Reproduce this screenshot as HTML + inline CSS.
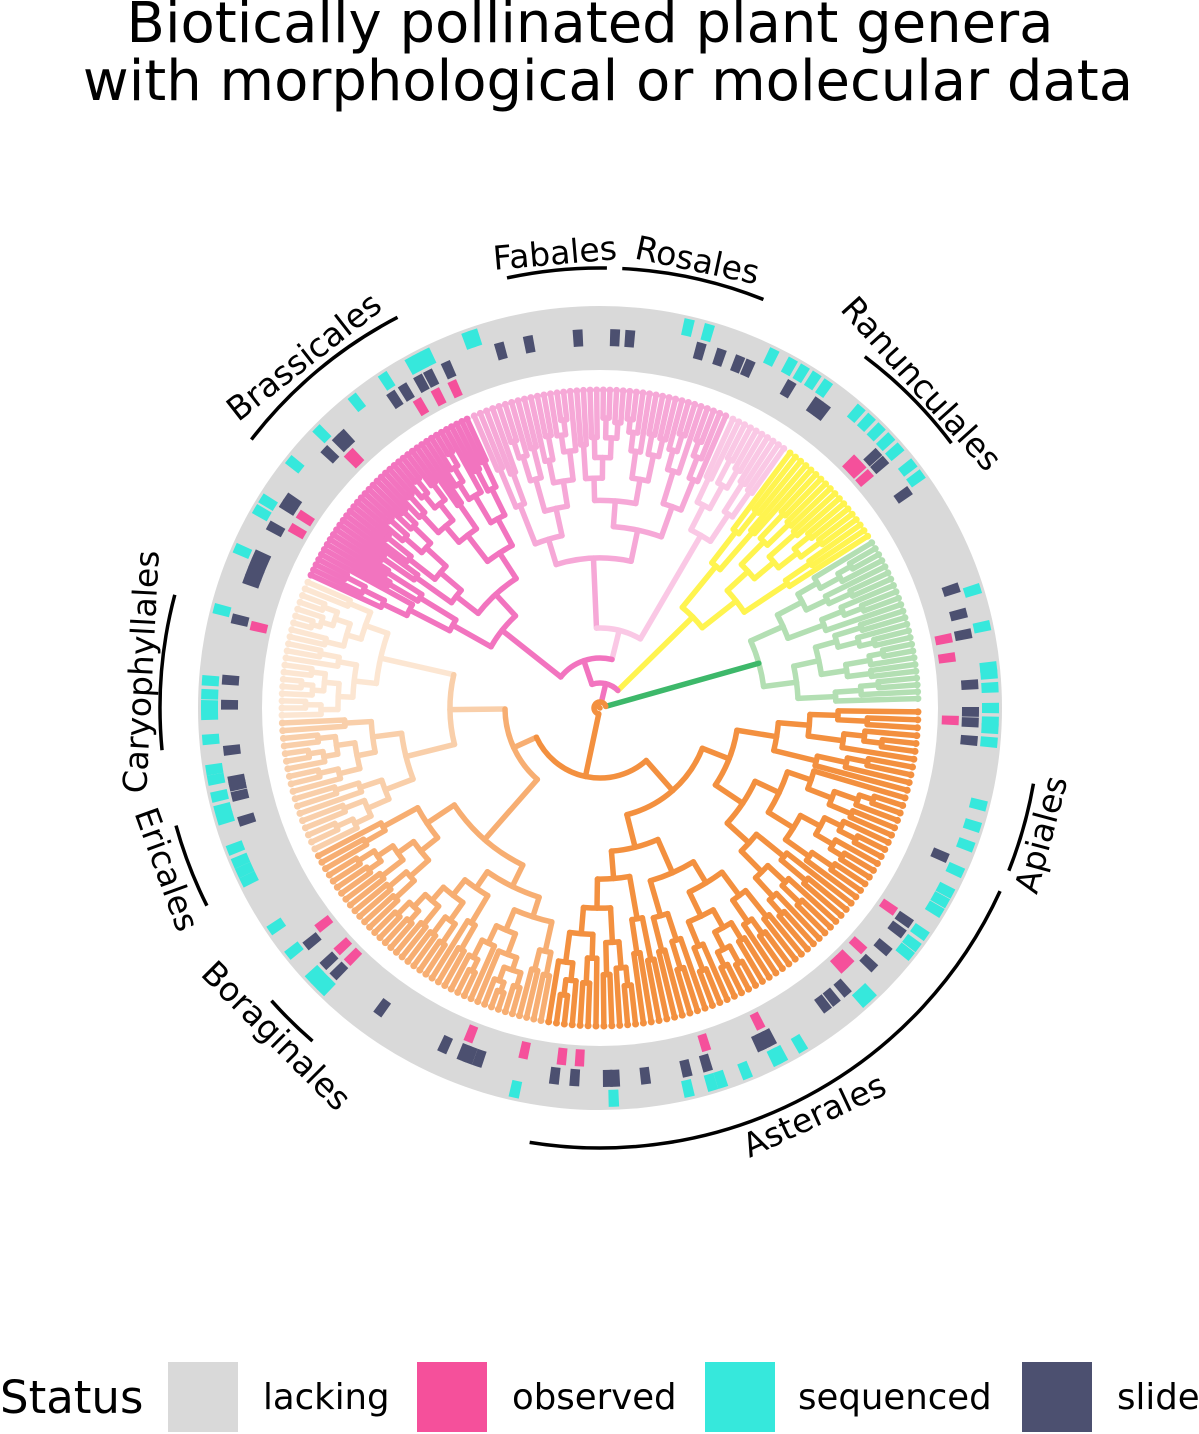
<!DOCTYPE html>
<html><head><meta charset="utf-8"><style>
html,body{margin:0;padding:0;background:#fff;}
svg{display:block;font-family:"DejaVu Sans","Liberation Sans",sans-serif;}
</style></head><body>
<svg id="chart" width="1199" height="1434" viewBox="0 0 1199 1434" xmlns="http://www.w3.org/2000/svg">
<text x="590" y="42" font-size="56" text-anchor="middle">Biotically pollinated plant genera</text>
<text x="608" y="100" font-size="56" text-anchor="middle">with morphological or molecular data</text>
<g id="ring"></g>
<g id="tree"></g>
<g id="labels"></g>
<g>
<text x="0" y="1413" font-size="45">Status</text>
<rect x="168" y="1362" width="70" height="70" fill="#D9D9D9"/>
<text x="263" y="1409" font-size="35.5">lacking</text>
<rect x="417" y="1362" width="70" height="70" fill="#F5509B"/>
<text x="512" y="1409" font-size="35.5">observed</text>
<rect x="705" y="1362" width="70" height="70" fill="#36E8DC"/>
<text x="798" y="1409" font-size="35.5">sequenced</text>
<rect x="1022" y="1362" width="70" height="70" fill="#4C5070"/>
<text x="1117" y="1409" font-size="35.5">slide</text>
</g>
</svg>
<script>
const cladeNames=["asterales","boraginales","ericales","caryophyllales","brassicales","rosales","fabales","ranunculales","apiales"];
const cladeStart=[0,100,153,178,204,246,294,306,328];
const cladeEnd=[100,153,178,204,246,294,306,328,359];
const cladeTips=[70,40,18,20,40,40,10,18,25];
const cladeCrown=[110,175,200,225,125,150,200,130,165];
const cladeColors=["#F3903F","#F7AE72","#F9CFAA","#FCE6D2","#F274BF","#F6A8D7","#FAC8E5","#FFF44F","#B3DFB3"];
const cladeStemColors=["#F3903F","#F7AE72","#F9CFAA","#FCE6D2","#F274BF","#F6A8D7","#FAC8E5","#FFF44F","#3DB86A"];
const observedAngles=[239.3,242.6,245.6,225.2,225.7,210.3,212.8,193.3,315.8,317.2,319,348.7,351.8,2,34.6,42.6,45.6,47,63.3,72.7,93.3,96.2,102.4,111.6,134.8,137.2,142];
const slideAngles=[254.5,259,266.6,272.3,274.6,285.6,288.8,291.8,293.5,300.5,305.4,306.8,317.4,319,324.9,341.4,345.4,348.6,356.4,0.6,2.2,5,23.4,34.8,36.7,40.2,43.5,49.1,51.3,53,62.9,63.9,64.6,73.4,76.6,83,87.7,88.8,93.9,97,109,110.5,111.5,114.7,126,134.8,137,141,162.5,166.4,168,168.8,173.5,180.5,184.3,193.7,200,201.3,202.6,204,208.9,212.8,213.9,223.2,225.7,226.7,236.4,238.5,241.2,242.9,245.9];
const sequencedAngles=[283,286,296,299,301,303,305,311,313,315,317,319,322,324,342.5,348,354,355,357,0,2,3,5,14.3,17.5,20.5,24.5,27.8,29.4,31,35,37,38.6,46.8,48,59.3,62.6,63.4,68.2,72,73.5,77,88,102.5,134.5,135.8,137,141.6,146,154,155.5,157,159,163.6,165,167,169.5,171,175.4,179,180.4,182,184,194.5,203.7,210,211.8,218.6,224.6,231.5,236.9,241.4,242.6,243.9,250.4,251.3];
const orderLabels=["Fabales","Rosales","Ranunculales","Apiales","Asterales","Boraginales","Ericales","Caryophyllales","Brassicales"];
const orderArcStart=[257.8,272.9,307,9.9,24.6,130.8,153.3,174.5,217.6];
const orderArcEnd=[270.9,291.8,323,21.7,99.2,138.3,164.5,194.9,242.6];

const NS="http://www.w3.org/2000/svg";
const cx=600,cy=708,tipR=318;
function P(r,a){const t=a*Math.PI/180;return [cx+r*Math.cos(t),cy+r*Math.sin(t)];}
function mk(tag,attrs,parent){const e=document.createElementNS(NS,tag);for(const k in attrs)e.setAttribute(k,attrs[k]);parent.appendChild(e);return e;}

const ring=document.getElementById('ring');
const bg=mk('path',{d:`M ${cx+402} ${cy} A 402 402 0 1 1 ${cx-402} ${cy} A 402 402 0 1 1 ${cx+402} ${cy} M ${cx+338} ${cy} A 338 338 0 1 0 ${cx-338} ${cy} A 338 338 0 1 0 ${cx+338} ${cy} Z`,fill:'#D9D9D9','fill-rule':'evenodd'},ring);


function wedge(a,r0,r1,color,name){
  const w=0.75;const p1=P(r0,a-w),p2=P(r1,a-w),p3=P(r1,a+w),p4=P(r0,a+w);
  const e=mk('path',{d:`M${p1} L${p2} A${r1} ${r1} 0 0 1 ${p3} L${p4} A${r0} ${r0} 0 0 0 ${p1} Z`,fill:color},ring);
  
  
}
observedAngles.forEach(a=>wedge(a,342,359,'#F5509B','observed-marker'));
slideAngles.forEach(a=>wedge(a,362,379,'#4C5070','slide-marker'));
sequencedAngles.forEach(a=>wedge(a,382,399,'#36E8DC','sequenced-marker'));

const tree=document.getElementById('tree');
function line(r0,r1,a,color){const p=P(r0,a),q=P(r1,a);
  const e=mk('line',{x1:p[0],y1:p[1],x2:q[0],y2:q[1],stroke:color,'stroke-width':5.5,'stroke-linecap':'round'},tree);
  
  }
function arc(r,a0,a1,color){if(Math.abs(a1-a0)<0.01)return;const p=P(r,a0),q=P(r,a1);const large=(a1-a0)>180?1:0;
  const e=mk('path',{d:`M${p} A${r} ${r} 0 ${large} 1 ${q}`,fill:'none',stroke:color,'stroke-width':5.5,'stroke-linecap':'round'},tree);
  
  }
const pattern=[0.5,0.3,0.62,0.4,0.22,0.55,0.75,0.35,0.45,0.68];
let pc=0;
function sub(tips,r,color){
  if(tips.length===1){line(r,tipR,tips[0],color);const p=P(tipR,tips[0]);
    const d=mk('circle',{cx:p[0],cy:p[1],r:3.5,fill:color},tree);
    
    
    return tips[0];}
  const n=tips.length;const ratio=pattern[pc++%pattern.length];
  let k=Math.max(1,Math.min(n-1,Math.round(n*ratio)));
  const A=tips.slice(0,k),B=tips.slice(k);
  const res=[];
  for(const g of [A,B]){
    const step=(tipR-r)/(Math.log2(g.length+1)+1.2)*(0.7+0.6*pattern[pc%pattern.length]);
    const cr=g.length===1?r:Math.min(tipR-6,r+step);
    const ang=sub(g,cr,color);
    if(g.length>1)line(r,cr,ang,color);
    res.push(ang);
  }
  arc(r,res[0],res[1],color);
  return (res[0]+res[1])/2;
}
function clade(i,parentR){
  const n=cladeTips[i],s=cladeStart[i]+0.7,e=cladeEnd[i]-0.7;
  const tips=[];for(let j=0;j<n;j++)tips.push(n===1?(s+e)/2:s+(e-s)*j/(n-1));
  const ang=sub(tips,cladeCrown[i],cladeColors[i]);
  line(parentR,cladeCrown[i],ang,cladeStemColors[i]);
  return ang;
}
const backbone={r:6,col:'#F3903F',c:[{r:70,col:'#F3903F',c:[0,{r:95,col:'#F7AE72',c:[1,{r:150,col:'#F9CFAA',c:[2,3]}]}]},{r:25,col:'#F274BF',c:[{r:50,col:'#F274BF',c:[4,{r:80,col:'#FAC8E5',c:[5,6]}]},7]},8]};
function node(nd,parentR){
  if(typeof nd==='number')return clade(nd,parentR);
  const angs=nd.c.map(ch=>node(ch,nd.r));
  const a0=angs[0],a1=angs[angs.length-1];
  arc(nd.r,a0,a1,nd.col);
  const m=(a0+a1)/2;
  if(parentR<nd.r)line(parentR,nd.r,m,nd.col);
  return m;
}
node(backbone,0);

const lab=document.getElementById('labels');
const labelPos=[[555,255,-5],[697,262,12],[920,385,48],[1043,835,-75],[815,1117,-25],[275,1037,45],[165,870,70],[143,672,-87],[305,358,-38]];
orderLabels.forEach((t,i)=>{
  let a0=orderArcStart[i],a1=orderArcEnd[i];if(a1<a0){const x=a0;a0=a1;a1=x;}
  const r=440;const p=P(r,a0),q=P(r,a1);
  const e=mk('path',{d:`M${p} A${r} ${r} 0 0 1 ${q}`,fill:'none',stroke:'#000','stroke-width':3.5},lab);
  
  
  const [x,y,rot]=labelPos[i];
  const tx=mk('text',{x:x,y:y,'font-size':33,'text-anchor':'middle','dominant-baseline':'middle',transform:`rotate(${rot} ${x} ${y})`},lab);
  tx.textContent=t;
  
  
});
</script>
</body></html>
